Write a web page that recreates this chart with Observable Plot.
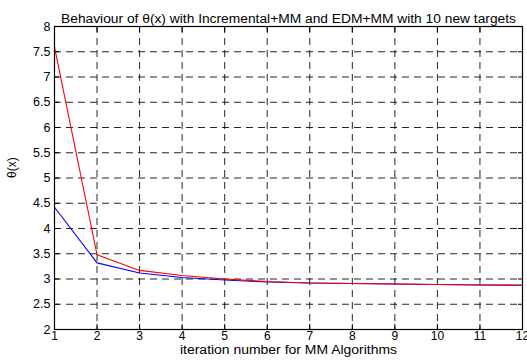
<!DOCTYPE html>
<html><head><meta charset="utf-8">
<script src="https://cdn.jsdelivr.net/npm/d3@7"></script>
<script src="https://cdn.jsdelivr.net/npm/@observablehq/plot@0.6"></script>
<style>body{margin:0;background:#fff}</style>
</head><body><div id="chart"></div>
<script>
const iterations = [1,2,3,4,5,6,7,8,9,10,11,12];
const incrementalMM = [4.42, 3.32, 3.12, 3.03, 2.98, 2.94, 2.92, 2.91, 2.90, 2.89, 2.88, 2.88];
const edmMM = [7.59, 3.48, 3.17, 3.07, 3.00, 2.95, 2.92, 2.91, 2.90, 2.89, 2.88, 2.87];
const xTicks = [1,2,3,4,5,6,7,8,9,10,11,12];
const yTicks = [2,2.5,3,3.5,4,4.5,5,5.5,6,6.5,7,7.5,8];
const title = "Behaviour of θ(x) with Incremental+MM and EDM+MM with 10 new targets";
const xLabel = "iteration number for MM Algorithms";
const yLabel = "θ(x)";

const blue = iterations.map((x,i)=>({x, y: incrementalMM[i]}));
const red = iterations.map((x,i)=>({x, y: edmMM[i]}));

const chart = Plot.plot({
  width: 527, height: 360,
  marginLeft: 54, marginRight: 5, marginTop: 26, marginBottom: 31,
  style: {fontFamily: "'Liberation Sans', Arial, sans-serif", fontSize: "12px", color: "black", background: "white"},
  x: {domain: [1, 12]},
  y: {domain: [2, 8]},
  marks: [
    Plot.gridX(xTicks, {stroke: "black", strokeOpacity: 0.85, strokeDasharray: "7,5"}),
    Plot.gridY(yTicks, {stroke: "black", strokeOpacity: 0.85, strokeDasharray: "7,5"}),
    Plot.axisX(xTicks, {anchor: "bottom", tickSize: 0, tickPadding: 2, label: null, fontSize: 12, tickFormat: d => String(d)}),
    Plot.axisY(yTicks, {anchor: "left", tickSize: 0, tickPadding: 4, label: null, fontSize: 12.5, tickFormat: d => String(d)}),
    Plot.axisX(xTicks, {anchor: "bottom", tickSize: -5, text: null, label: null}),
    Plot.axisX(xTicks, {anchor: "top", tickSize: -5, text: null, label: null}),
    Plot.axisY(yTicks, {anchor: "left", tickSize: -5, text: null, label: null}),
    Plot.axisY(yTicks, {anchor: "right", tickSize: -5, text: null, label: null}),
    Plot.line(blue, {x: "x", y: "y", stroke: "blue", strokeWidth: 1.1}),
    Plot.line(red, {x: "x", y: "y", stroke: "red", strokeWidth: 1.1}),
    Plot.frame({stroke: "black", strokeWidth: 1.2}),
    Plot.text([title], {frameAnchor: "top", dy: -12, fontSize: 12, text: d => d}),
    Plot.text([xLabel], {frameAnchor: "bottom", dy: 24.5, fontSize: 12, text: d => d}),
    Plot.text([yLabel], {frameAnchor: "left", dx: -42, rotate: -90, fontSize: 12, text: d => d})
  ]
});
chart.querySelectorAll("text").forEach(t => {
  if (t.textContent === title) { t.setAttribute("textLength", 455); t.setAttribute("lengthAdjust", "spacingAndGlyphs"); }
  if (t.textContent === xLabel) { t.setAttribute("textLength", 217); t.setAttribute("lengthAdjust", "spacingAndGlyphs"); }
});
document.getElementById("chart").appendChild(chart);
</script>
</body></html>
